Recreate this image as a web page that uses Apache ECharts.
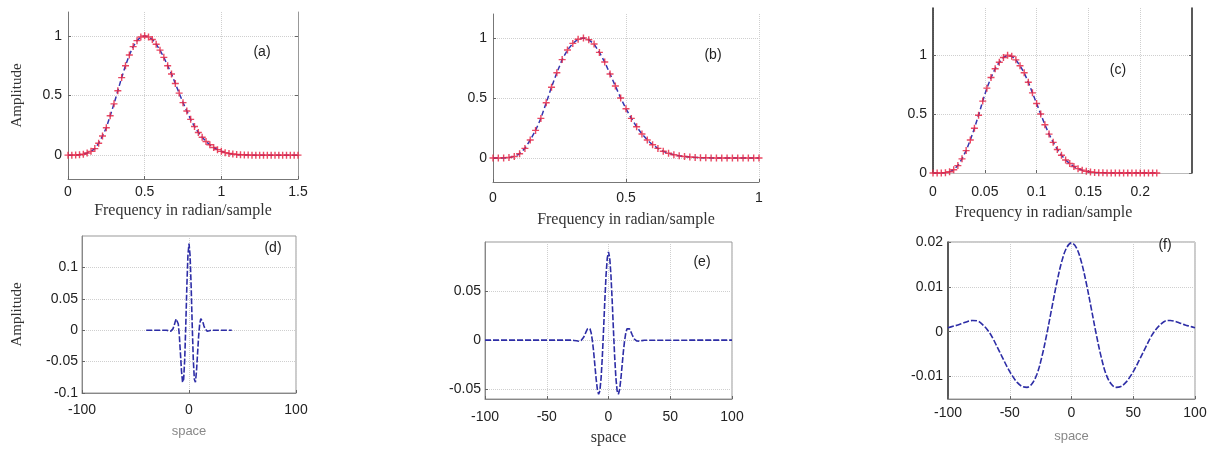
<!DOCTYPE html>
<html><head><meta charset="utf-8">
<script src="https://cdn.jsdelivr.net/npm/echarts@6/dist/echarts.min.js"></script>
<style>html,body{margin:0;padding:0;background:#fff}#c{width:1213px;height:451px}</style>
</head><body><div id="c"></div>
<script>
// ---------- data ----------
const aX = [0,0.025,0.05,0.075,0.1,0.125,0.15,0.175,0.2,0.225,0.25,0.275,0.3,0.325,0.35,0.375,0.4,0.425,0.45,0.475,0.5,0.525,0.55,0.575,0.6,0.625,0.65,0.675,0.7,0.725,0.75,0.775,0.8,0.825,0.85,0.875,0.9,0.925,0.95,0.975,1,1.025,1.05,1.075,1.1,1.125,1.15,1.175,1.2,1.225,1.25,1.275,1.3,1.325,1.35,1.375,1.4,1.425,1.45,1.475,1.5];
const aY = [0,0,0.001,0.003,0.008,0.018,0.032,0.055,0.1,0.16,0.23,0.33,0.43,0.54,0.65,0.75,0.84,0.91,0.96,0.99,1,0.99,0.97,0.93,0.88,0.82,0.75,0.68,0.6,0.52,0.44,0.37,0.3,0.24,0.19,0.15,0.115,0.087,0.064,0.046,0.032,0.021,0.014,0.009,0.005,0.003,0.002,0.001,0,0,0,0,0,0,0,0,0,0,0,0,0];

const bX = [0,0.02,0.04,0.06,0.08,0.1,0.12,0.14,0.16,0.18,0.2,0.22,0.24,0.26,0.28,0.3,0.32,0.34,0.36,0.38,0.4,0.42,0.44,0.46,0.48,0.5,0.52,0.54,0.56,0.58,0.6,0.62,0.64,0.66,0.68,0.7,0.72,0.74,0.76,0.78,0.8,0.82,0.84,0.86,0.88,0.9,0.92,0.94,0.96,0.98,1];
const bY = [0,0,0.001,0.004,0.012,0.035,0.08,0.15,0.23,0.33,0.46,0.59,0.71,0.82,0.9,0.955,0.99,1,0.985,0.95,0.88,0.8,0.7,0.6,0.5,0.41,0.33,0.26,0.2,0.15,0.11,0.08,0.056,0.04,0.027,0.018,0.012,0.008,0.005,0.003,0.002,0.001,0,0,0,0,0,0,0,0,0];

const cX = [0,0.004,0.008,0.012,0.016,0.02,0.024,0.028,0.032,0.036,0.04,0.044,0.048,0.052,0.056,0.06,0.064,0.068,0.072,0.076,0.08,0.084,0.088,0.092,0.096,0.1,0.104,0.108,0.112,0.116,0.12,0.124,0.128,0.132,0.136,0.14,0.144,0.148,0.152,0.156,0.16,0.164,0.168,0.172,0.176,0.18,0.184,0.188,0.192,0.196,0.2,0.204,0.208,0.212,0.216];
const cY = [0,0,0,0.003,0.01,0.028,0.063,0.12,0.19,0.28,0.38,0.49,0.61,0.72,0.81,0.885,0.94,0.98,1,0.99,0.96,0.91,0.85,0.77,0.68,0.59,0.5,0.41,0.33,0.26,0.2,0.15,0.11,0.08,0.055,0.037,0.024,0.015,0.009,0.005,0.003,0.002,0.001,0,0,0,0,0,0,0,0,0,0,0,0];

const dX = [-40,-21,-20,-19,-18,-17,-16,-15,-14,-13,-12,-11,-10,-9,-8,-7,-6,-5,-4,-3,-2,-1,0,1,2,3,4,5,6,7,8,9,10,11,12,13,14,15,16,17,18,19,20,21,40];
const dY = [0,0,-0.0005,-0.0009,-0.0014,-0.0015,-0.0006,0.0021,0.0068,0.0129,0.0179,0.0182,0.0098,-0.0094,-0.0371,-0.0654,-0.0829,-0.0781,-0.046,0.0086,0.0705,0.1194,0.138,0.1194,0.0705,0.0086,-0.046,-0.0781,-0.0829,-0.0654,-0.0371,-0.0094,0.0098,0.0182,0.0179,0.0129,0.0068,0.0021,-0.0006,-0.0015,-0.0014,-0.0009,-0.0005,0,0];

const eX = [-100,-30,-29,-28,-27,-26,-25,-24,-23,-22,-21,-20,-19,-18,-17,-16,-15,-14,-13,-12,-11,-10,-9,-8,-7,-6,-5,-4,-3,-2,-1,0,1,2,3,4,5,6,7,8,9,10,11,12,13,14,15,16,17,18,19,20,21,22,23,24,25,26,27,28,29,30,100];
const eY = [0,0,-0.0001,-0.0003,-0.0005,-0.0007,-0.001,-0.0011,-0.0009,-0.0002,0.0011,0.0032,0.006,0.0089,0.0115,0.0127,0.0116,0.0072,-0.0009,-0.0123,-0.026,-0.0397,-0.0504,-0.0552,-0.0517,-0.0388,-0.0171,0.0105,0.0398,0.0658,0.0836,0.09,0.0836,0.0658,0.0398,0.0105,-0.0171,-0.0388,-0.0517,-0.0552,-0.0504,-0.0397,-0.026,-0.0123,-0.0009,0.0072,0.0116,0.0127,0.0115,0.0089,0.006,0.0032,0.0011,-0.0002,-0.0009,-0.0011,-0.001,-0.0007,-0.0005,-0.0003,-0.0001,0,0];

const fX = [-100,-96,-92,-88,-84,-80,-76,-72,-68,-64,-60,-56,-52,-48,-44,-40,-36,-32,-28,-24,-20,-16,-12,-8,-4,0,4,8,12,16,20,24,28,32,36,40,44,48,52,56,60,64,68,72,76,80,84,88,92,96,100];
const fY = [0.0009,0.0012,0.0015,0.0019,0.0023,0.0025,0.0024,0.0016,0.0004,-0.0013,-0.0035,-0.0057,-0.0079,-0.0098,-0.0113,-0.0122,-0.0124,-0.0116,-0.0095,-0.0056,-0.0005,0.0052,0.0108,0.01555,0.0187,0.0198,0.0187,0.01555,0.0108,0.0052,-0.0005,-0.0056,-0.0095,-0.0116,-0.0124,-0.0122,-0.0113,-0.0098,-0.0079,-0.0057,-0.0035,-0.0013,0.0004,0.0016,0.0024,0.0025,0.0023,0.0019,0.0015,0.0012,0.0009];

// tick labels
const aTicksX = [0,0.5,1,1.5];   const aTicksY = [0,0.5,1];
const bTicksX = [0,0.5,1];       const bTicksY = [0,0.5,1];
const cTicksX = [0,0.05,0.1,0.15,0.2]; const cTicksY = [0,0.5,1];
const dTicksX = [-100,0,100];    const dTicksY = [-0.1,-0.05,0,0.05,0.1];
const eTicksX = [-100,-50,0,50,100]; const eTicksY = [-0.05,0,0.05];
const fTicksX = [-100,-50,0,50,100]; const fTicksY = [-0.01,0,0.01,0.02];

const panelLabels = ['(a)','(b)','(c)','(d)','(e)','(f)'];
const freqName = 'Frequency in radian/sample';
const spaceName = 'space';
const ampName = 'Amplitude';

// ---------- chart ----------
const SANS = 'Liberation Sans, Arial, sans-serif';
const SERIF = 'Liberation Serif, Times New Roman, serif';
const PLUS = 'path://M4,0H6V4H10V6H6V10H4V6H0V4H4Z';
const zip = (xs, ys) => xs.map((x, i) => [x, ys[i]]);

const P = [
  {grid:{left:68,top:12,width:230,height:167,show:false}, xr:[0,1.5], yr:[-0.2,1.2], xt:aTicksX, yt:aTicksY, X:aX, Y:aY, top:true,
   xName:freqName, xGap:24, xMargin:6, xNameFont:SERIF, xNameColor:'#333', xNamePad:[0,0,0,0],
   yName:ampName, yGap:43, yMargin:6, leftColor:'#777', bottomColor:'#777', right:'#999', lbl:[262,52]},
  {grid:{left:493,top:14,width:266,height:168,show:false}, xr:[0,1], yr:[-0.2,1.2], xt:bTicksX, yt:bTicksY, X:bX, Y:bY, top:true,
   xName:freqName, xGap:30, xMargin:9, xNameFont:SERIF, xNameColor:'#333', xNamePad:[0,0,0,0],
   yName:'', yGap:40, yMargin:6, leftColor:'#777', bottomColor:'#777', right:null, lbl:[713,55]},
  {grid:{left:933,top:8,width:259,height:165,show:false}, xr:[0,0.25], yr:[0,1.4], xt:cTicksX, yt:cTicksY, X:cX, Y:cY, top:true,
   xName:freqName, xGap:32, xMargin:12, xNameFont:SERIF, xNameColor:'#333', xNamePad:[0,38,0,0],
   yName:'', yGap:40, yMargin:6, leftColor:'#222', bottomColor:'#bbb', right:'#222', lbl:[1118,70]},
  {grid:{left:82,top:236,width:214,height:157,show:true,borderColor:'#999',borderWidth:1}, xr:[-100,100], yr:[-0.1,0.15], xt:dTicksX, yt:dTicksY, X:dX, Y:dY, top:false,
   xName:spaceName, xGap:32, xMargin:10, xNameFont:SANS, xNameColor:'#888', xNamePad:[0,0,0,0],
   yName:ampName, yGap:57, yMargin:4, leftColor:'#888', bottomColor:'#888', right:null, lbl:[273,248]},
  {grid:{left:485,top:242,width:247,height:157,show:true,borderColor:'#999',borderWidth:1}, xr:[-100,100], yr:[-0.06,0.1], xt:eTicksX, yt:eTicksY, X:eX, Y:eY, top:false,
   xName:spaceName, xGap:31, xMargin:11, xNameFont:SERIF, xNameColor:'#333', xNamePad:[0,0,0,0],
   yName:'', yGap:40, yMargin:4, leftColor:'#888', bottomColor:'#888', right:null, lbl:[702,262]},
  {grid:{left:948,top:242,width:247,height:157,show:true,borderColor:'#999',borderWidth:1}, xr:[-100,100], yr:[-0.015,0.02], xt:fTicksX, yt:fTicksY, X:fX, Y:fY, top:false,
   xName:spaceName, xGap:31, xMargin:7, xNameFont:SANS, xNameColor:'#888', xNamePad:[0,0,0,0],
   yName:'', yGap:40, yMargin:5, leftColor:'#333', bottomColor:'#888', right:null, lbl:[1165,245]}
];

const grids = [], xAxes = [], yAxes = [], series = [], graphics = [];
const labelStyle = {fontFamily: SANS, fontSize: 14, color: '#222'};

P.forEach((p, i) => {
  grids.push(Object.assign({backgroundColor:'transparent'}, p.grid));
  xAxes.push({
    type:'value', gridIndex:i, min:p.xr[0], max:p.xr[1],
    name:p.xName, nameLocation:'middle', nameGap:p.xGap,
    nameTextStyle:{fontFamily:p.xNameFont, fontSize: p.xNameFont === SANS ? 13 : 16, color:p.xNameColor, padding:p.xNamePad},
    axisLine:{show:true, onZero:false, lineStyle:{color:p.bottomColor, width:1}},
    axisTick:{show:true, inside:true, length:3, customValues:p.xt, lineStyle:{color:'#666'}},
    axisLabel:Object.assign({customValues:p.xt, margin:p.xMargin, hideOverlap:false}, labelStyle),
    splitLine:{show:true, lineStyle:{color:'#cfcfcf', type:'dotted', width:1}}
  });
  const yi = yAxes.length;
  yAxes.push({
    type:'value', gridIndex:i, min:p.yr[0], max:p.yr[1],
    name:p.yName, nameLocation:'middle', nameGap:p.yGap,
    nameTextStyle:{fontFamily:SERIF, fontSize:15, color:'#333'},
    axisLine:{show:true, onZero:false, lineStyle:{color:p.leftColor, width: p.leftColor === '#222' || p.leftColor === '#333' ? 1.5 : 1}},
    axisTick:{show:true, inside:true, length:3, customValues:p.yt, lineStyle:{color:'#666'}},
    axisLabel:Object.assign({customValues:p.yt, margin:p.yMargin, hideOverlap:false}, labelStyle),
    splitLine:{show:true, lineStyle:{color:'#cfcfcf', type:'dotted', width:1}}
  });
  if (p.right) {
    yAxes.push({
      type:'value', gridIndex:i, position:'right', min:p.yr[0], max:p.yr[1],
      axisLine:{show:true, onZero:false, lineStyle:{color:p.right, width: p.right === '#222' ? 1.5 : 1}},
      axisTick:{show:true, inside:true, length:3, customValues:p.yt, lineStyle:{color:'#666'}},
      axisLabel:{show:false}, splitLine:{show:false}
    });
  }
  if (p.top) {
    series.push({
      type:'line', xAxisIndex:i, yAxisIndex:yi, data:zip(p.X, p.Y),
      symbol:PLUS, symbolSize:7, showAllSymbol:true, showSymbol:true,
      itemStyle:{color:'rgba(230,40,70,0.85)'},
      lineStyle:{color:'#3535b0', width:1.5, type:[5,3]},
      silent:true, animation:false, z:3
    });
  } else {
    series.push({
      type:'line', xAxisIndex:i, yAxisIndex:yi, data:zip(p.X, p.Y),
      symbol:'none', smooth: i === 5 ? 0.35 : false,
      lineStyle:{color:'#2d2da6', width:1.6, type:[6,2]},
      silent:true, animation:false, z:3
    });
  }
  graphics.push({
    type:'text', x:p.lbl[0], y:p.lbl[1], z:10,
    style:{text:panelLabels[i], font:'14px Liberation Sans', fill:'#222',
           align:'center', verticalAlign:'middle', textAlign:'center', textVerticalAlign:'middle'}
  });
});

const chart = echarts.init(document.getElementById('c'), null, {renderer:'canvas'});
chart.setOption({
  animation:false,
  backgroundColor:'#ffffff',
  grid:grids, xAxis:xAxes, yAxis:yAxes, series:series, graphic:graphics
});
</script>
</body></html>
